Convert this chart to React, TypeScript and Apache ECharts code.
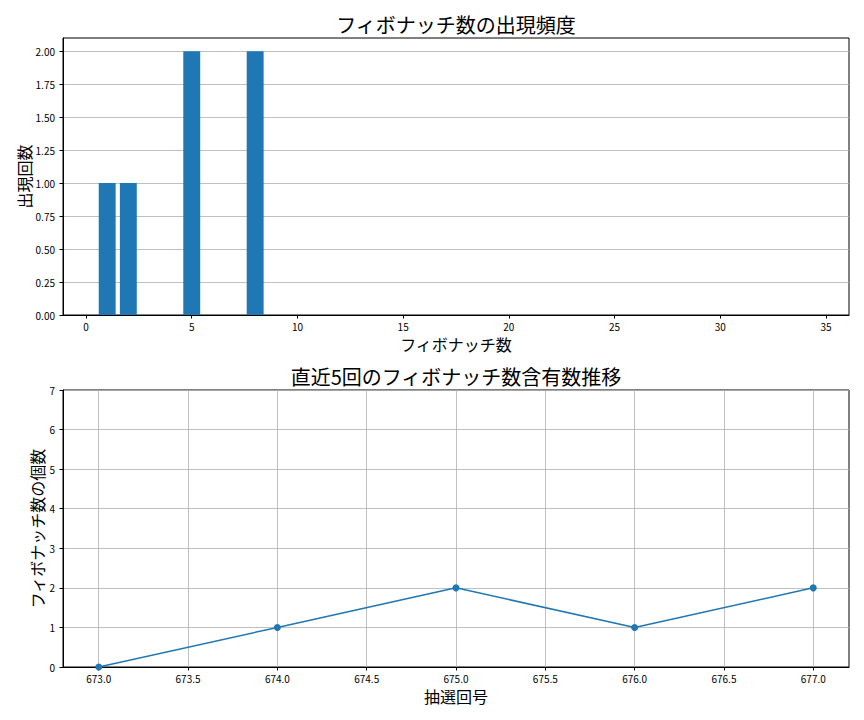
import React, { useEffect, useRef } from "react";
import * as echarts from "echarts";

// ---- data ----
const fibNumbers = [1, 2, 3, 5, 8, 13, 21, 34];
const fibCounts = [1, 1, 0, 2, 2, 0, 0, 0];
const topXTicks = [0, 5, 10, 15, 20, 25, 30, 35];
const topYTicks = [0, 0.25, 0.5, 0.75, 1.0, 1.25, 1.5, 1.75, 2.0];

const drawNumbers = [673, 674, 675, 676, 677];
const fibContained = [0, 1, 2, 1, 2];
const bottomXTicks = [673, 673.5, 674, 674.5, 675, 675.5, 676, 676.5, 677];
const bottomYTicks = [0, 1, 2, 3, 4, 5, 6, 7];

const topTitle = "フィボナッチ数の出現頻度";
const topXName = "フィボナッチ数";
const topYName = "出現回数";
const bottomTitle = "直近5回のフィボナッチ数含有数推移";
const bottomXName = "抽選回号";
const bottomYName = "フィボナッチ数の個数";

const FONT = "'Noto Sans CJK JP', 'Noto Sans', sans-serif";
const BLUE = "#1f77b4";

const GRID_LEFT = 63;
const GRID_W = 786;
const TOP_X_MIN = -1.09;
const TOP_X_MAX = 36.09;

export default function App() {
  const ref = useRef<HTMLDivElement>(null);

  useEffect(() => {
    document.body.style.margin = "0";
    const chart = echarts.init(ref.current!, undefined, { renderer: "svg" });

    const axisLine = { show: true, onZero: false, lineStyle: { color: "#000", width: 1 } };
    const axisTick = { show: true, length: 3.5, lineStyle: { color: "#000", width: 1 } };
    const tickLabel = { color: "#000", fontFamily: FONT, fontSize: 10 };
    const gridLine = { lineStyle: { color: "#b0b0b0", width: 0.8 } };
    const nameStyle = { color: "#000", fontFamily: FONT, fontSize: 16 };

    const barWidth = (0.8 * GRID_W) / (TOP_X_MAX - TOP_X_MIN);

    chart.setOption({
      animation: false,
      backgroundColor: "#fff",
      graphic: [
        {
          type: "text",
          x: GRID_LEFT + GRID_W / 2,
          y: 24,
          style: {
            text: topTitle,
            fontFamily: FONT,
            fontSize: 20,
            fill: "#000",
            textAlign: "center",
            textVerticalAlign: "middle",
          },
        },
        {
          type: "text",
          x: GRID_LEFT + GRID_W / 2,
          y: 376,
          style: {
            text: bottomTitle,
            fontFamily: FONT,
            fontSize: 20,
            fill: "#000",
            textAlign: "center",
            textVerticalAlign: "middle",
          },
        },
      ],
      grid: [
        {
          left: GRID_LEFT,
          top: 38,
          width: GRID_W,
          height: 277,
          show: true,
          borderColor: "#000",
          borderWidth: 1,
          backgroundColor: "transparent",
        },
        {
          left: GRID_LEFT,
          top: 390,
          width: GRID_W,
          height: 277,
          show: true,
          borderColor: "#000",
          borderWidth: 1,
          backgroundColor: "transparent",
        },
      ],
      xAxis: [
        {
          gridIndex: 0,
          type: "value",
          min: TOP_X_MIN,
          max: TOP_X_MAX,
          splitNumber: 7,
          axisLine,
          axisTick: { ...axisTick, customValues: topXTicks },
          axisLabel: { ...tickLabel, margin: 6, customValues: topXTicks },
          splitLine: { show: false },
          name: topXName,
          nameLocation: "middle",
          nameGap: 21,
          nameMoveOverlap: false,
          nameTextStyle: { ...nameStyle, verticalAlign: "top" },
        },
        {
          gridIndex: 1,
          type: "value",
          min: 672.8,
          max: 677.2,
          splitNumber: 9,
          axisLine,
          axisTick: { ...axisTick, customValues: bottomXTicks },
          axisLabel: {
            ...tickLabel,
            margin: 6,
            customValues: bottomXTicks,
            formatter: (v: number) => v.toFixed(1),
          },
          splitLine: { show: true, ...gridLine },
          name: bottomXName,
          nameLocation: "middle",
          nameGap: 21,
          nameMoveOverlap: false,
          nameTextStyle: { ...nameStyle, verticalAlign: "top" },
        },
      ],
      yAxis: [
        {
          gridIndex: 0,
          type: "value",
          min: 0,
          max: 2.1,
          interval: 0.25,
          axisLine,
          axisTick: { ...axisTick, customValues: topYTicks },
          axisLabel: {
            ...tickLabel,
            margin: 8,
            customValues: topYTicks,
            formatter: (v: number) => v.toFixed(2),
          },
          splitLine: { show: true, ...gridLine },
          name: topYName,
          nameLocation: "middle",
          nameGap: 31,
          nameMoveOverlap: false,
          nameTextStyle: nameStyle,
        },
        {
          gridIndex: 1,
          type: "value",
          min: 0,
          max: 7,
          interval: 1,
          axisLine,
          axisTick: { ...axisTick, customValues: bottomYTicks },
          axisLabel: { ...tickLabel, margin: 8, customValues: bottomYTicks },
          splitLine: { show: true, ...gridLine },
          name: bottomYName,
          nameLocation: "middle",
          nameGap: 18,
          nameMoveOverlap: false,
          nameTextStyle: nameStyle,
        },
      ],
      series: [
        {
          type: "bar",
          xAxisIndex: 0,
          yAxisIndex: 0,
          data: fibNumbers.map((n, i) => [n, fibCounts[i]]),
          barWidth,
          itemStyle: { color: BLUE },
        },
        {
          type: "line",
          xAxisIndex: 1,
          yAxisIndex: 1,
          data: drawNumbers.map((n, i) => [n, fibContained[i]]),
          symbol: "circle",
          symbolSize: 7,
          lineStyle: { color: BLUE, width: 1.5 },
          itemStyle: { color: BLUE },
        },
      ],
    });

    return () => chart.dispose();
  }, []);

  return (
    <div
      ref={ref}
      style={{ position: "absolute", left: 0, top: 0, width: 864, height: 720 }}
    />
  );
}
